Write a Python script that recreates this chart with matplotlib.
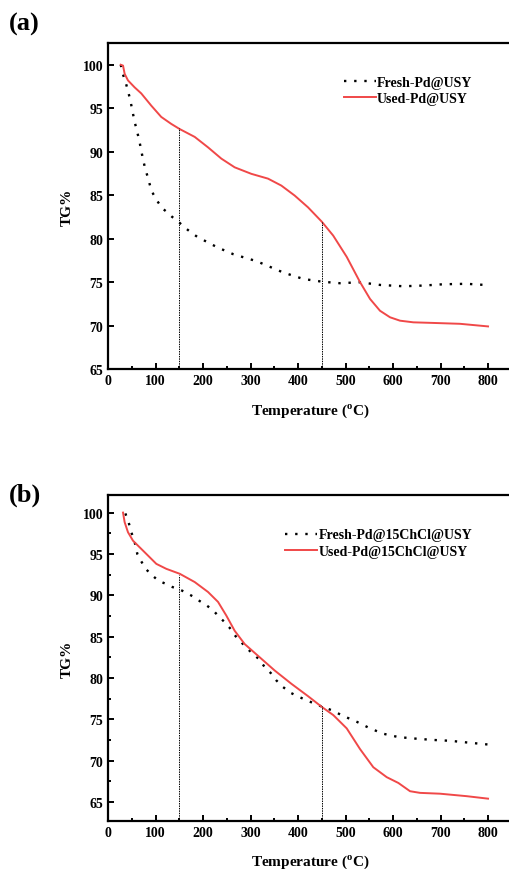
import matplotlib
matplotlib.use('Agg')
import matplotlib.pyplot as plt
from matplotlib.ticker import MultipleLocator

plt.rcParams['font.family'] = 'Liberation Serif'
plt.rcParams['font.weight'] = 'bold'
plt.rcParams['mathtext.fontset'] = 'custom'
plt.rcParams['mathtext.rm'] = 'Liberation Serif:bold'
plt.rcParams['mathtext.bf'] = 'Liberation Serif:bold'

# panel (a)
a_fresh_t = [27, 29.5, 36.5, 42, 47, 51, 55, 60, 65, 69, 73, 78, 83.5, 89, 95, 104, 114, 123, 135, 149,
             161, 175, 188, 230, 264, 313, 369, 411, 450, 488, 530, 573, 622, 664, 706, 755, 800]
a_fresh_tg = [100, 99.2, 98.1, 97.0, 95.9, 94.8, 93.7, 92.55, 91.5, 90.4, 89.3, 88.1, 87.1, 86.0, 85.15, 84.3,
              83.5, 83.1, 82.5, 81.9, 81.3, 80.7, 80.2, 79.0, 78.2, 77.4, 76.1, 75.36, 75.05, 74.87, 74.98,
              74.67, 74.52, 74.6, 74.75, 74.8, 74.65]
a_used_t = [26.7, 31.6, 35, 42, 56, 70, 91, 112, 133, 151, 182.5, 210.5, 238.6, 266.7, 301.8, 336.8, 364.9,
            393, 421, 450, 474, 502.5, 530.5, 551.6, 572.6, 593.7, 614.7, 642.8, 684.9, 741, 800]
a_used_tg = [100, 99.9, 98.96, 98.2, 97.4, 96.7, 95.3, 94.0, 93.2, 92.6, 91.7, 90.5, 89.2, 88.2, 87.45, 86.9,
             86.1, 84.95, 83.6, 81.95, 80.35, 77.9, 75.0, 73.06, 71.7, 70.95, 70.56, 70.37, 70.3, 70.2, 69.9]
a_marks_t = [150, 450]
a_marks_tg = [92.7, 81.9]

# panel (b)
b_fresh_t = [36.5, 43.5, 49, 54.7, 61.7, 70, 79.3, 91.2, 105.3, 120.7, 135.4, 151, 164.9, 179, 193, 206.9,
             221, 233.7, 245.6, 256, 267.9, 279.3, 291.2, 305.3, 319.3, 329.9, 342.5, 354.4, 368.4, 384.6,
             398.6, 414, 442.7, 470.7, 495.4, 523.6, 551.6, 579.6, 611.2, 649.7, 684.9, 720, 755, 800]
b_fresh_tg = [99.9, 98.8, 97.6, 96.8, 95.0, 94.1, 93.2, 92.5, 91.8, 91.4, 91.0, 90.7, 90.3, 89.85, 89.3, 88.8,
              88.2, 87.4, 86.75, 86.07, 85.1, 84.4, 83.65, 82.9, 82.2, 81.3, 80.6, 79.7, 78.9, 78.2,
              77.8, 77.4, 76.7, 76.1, 75.4, 74.7, 73.9, 73.25, 72.85, 72.65, 72.5, 72.4, 72.2, 71.95]
b_used_t = [31.6, 35, 42, 52.6, 77.2, 101.7, 122.7, 151, 182.5, 210.5, 231.6, 249, 266.7, 287.7, 319.3, 350.9,
            385.9, 421, 450, 474.4, 502.5, 530.5, 558.5, 586.7, 611.2, 635.8, 656.8, 698.9, 755, 800]
b_used_tg = [100, 98.84, 97.63, 96.6, 95.2, 93.8, 93.2, 92.6, 91.6, 90.4, 89.2, 87.55, 85.7, 84.1, 82.5, 80.9,
             79.3, 77.8, 76.5, 75.5, 73.9, 71.4, 69.2, 68.0, 67.3, 66.3, 66.1, 66.0, 65.7, 65.4]
b_marks_t = [150, 450]
b_marks_tg = [92.4, 76.6]

red = '#f04848'

fig = plt.figure(figsize=(5.1, 8.7), dpi=100)


def draw(ax, ft, fg, ut, ug, mt, mg, names, ylim, leg_anchor, yminor):
    ax.plot(ft, fg, color='black', lw=1.7, linestyle=(0, (1, 3.3)), label=names[0])
    ax.plot(ut, ug, color=red, lw=1.4, label=names[1])
    for t, g in zip(mt, mg):
        ax.plot([t, t], [ylim[0], g], color='black', lw=0.7, linestyle=(0, (1.5, 1)))
    ax.set_xlim(0, 850)
    ax.set_ylim(*ylim)
    ax.xaxis.set_major_locator(MultipleLocator(100))
    ax.xaxis.set_minor_locator(MultipleLocator(50))
    ax.yaxis.set_major_locator(MultipleLocator(5))
    if yminor:
        ax.yaxis.set_minor_locator(MultipleLocator(2.5))
    ax.tick_params(which='both', direction='in', labelsize=10, width=1.4)
    ax.tick_params(which='major', length=4.5)
    ax.tick_params(which='minor', length=2.5)
    for s in ax.spines.values():
        s.set_linewidth(1.6)
    ax.set_xlabel(r'Temperature ($^{\mathbf{o}}$C)', fontsize=11, fontweight='bold', labelpad=10)
    ax.set_ylabel('TG%', fontsize=11, fontweight='bold', labelpad=6)
    ax.legend(loc='upper left', bbox_to_anchor=leg_anchor, frameon=False, fontsize=10,
              handlelength=2.3, handletextpad=0.1, labelspacing=0.25, borderaxespad=0)


ax1 = fig.add_axes([0.2118, 0.5747, 0.7917, 0.3747])
draw(ax1, a_fresh_t, a_fresh_tg, a_used_t, a_used_tg, a_marks_t, a_marks_tg,
     ['Fresh-Pd@USY', 'Used-Pd@USY'], (65, 102.5), (0.57, 0.917), False)
fig.text(0.018, 0.972, '(a)', fontsize=19, fontweight='bold', va='center')

ax2 = fig.add_axes([0.2118, 0.0552, 0.7917, 0.3744])
draw(ax2, b_fresh_t, b_fresh_tg, b_used_t, b_used_tg, b_marks_t, b_marks_tg,
     ['Fresh-Pd@15ChCl@USY', 'Used-Pd@15ChCl@USY'], (62.7, 102.1), (0.425, 0.915), True)
fig.text(0.018, 0.431, '(b)', fontsize=19, fontweight='bold', va='center')

fig.savefig('out.png', dpi=100)
